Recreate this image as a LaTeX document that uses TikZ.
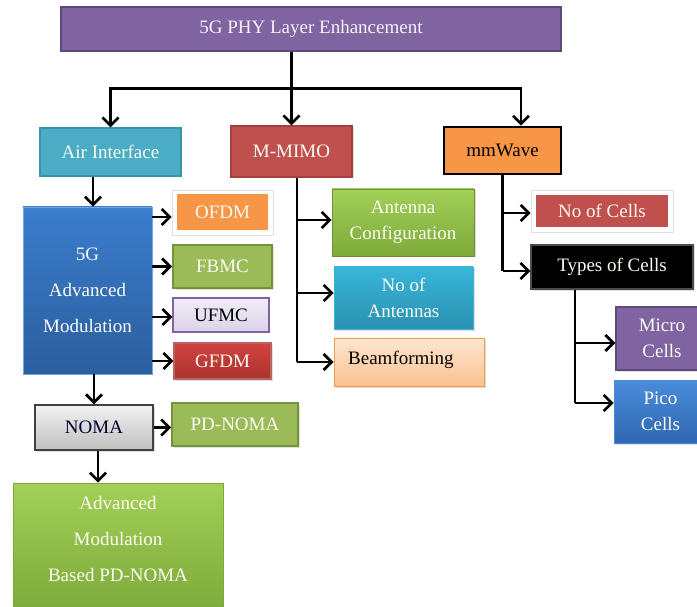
\documentclass[tikz,border=0pt]{standalone}
\usepackage{fontspec}
\setmainfont{Liberation Serif}
\usetikzlibrary{arrows.meta,shadows,calc}

\definecolor{cPurple}{HTML}{8064A2}
\definecolor{cPurpleD}{HTML}{5F497A}
\definecolor{cTeal}{HTML}{4BACC6}
\definecolor{cTealD}{HTML}{3B93AB}
\definecolor{cRed}{HTML}{C0504D}
\definecolor{cRedD}{HTML}{A43F3C}
\definecolor{cOrange}{HTML}{F79646}
\definecolor{cGreen}{HTML}{9BBB59}
\definecolor{cGreenD}{HTML}{76923C}
\definecolor{advTop}{HTML}{3B7DCD}
\definecolor{advBot}{HTML}{2B5E9E}
\definecolor{limeTop}{HTML}{A3D058}
\definecolor{limeBot}{HTML}{7DAA3A}
\definecolor{limeEdge}{HTML}{6E8E34}
\definecolor{cyanTop}{HTML}{38B6DA}
\definecolor{cyanBot}{HTML}{2B90B0}
\definecolor{picoTop}{HTML}{4A8CDB}
\definecolor{picoBot}{HTML}{2E67B0}
\definecolor{gfdmTop}{HTML}{D2433F}
\definecolor{gfdmBot}{HTML}{AA3330}
\definecolor{beamTop}{HTML}{FDE6D2}
\definecolor{beamBot}{HTML}{FBC190}
\definecolor{ufmcTop}{HTML}{F1EDF7}
\definecolor{ufmcBot}{HTML}{DCD2EA}
\definecolor{textW}{HTML}{FBFBF2}

\begin{document}
\begin{tikzpicture}[x=1pt,y=-1pt,
  box/.style={draw, line width=1.2pt, inner sep=2pt, align=center,
    font=\fontsize{19}{26}\selectfont, text=textW},
  txt/.style={inner sep=0pt, align=center, font=\fontsize{19}{26}\selectfont, text=textW},
  frame/.style={fill=white, draw=black!12, line width=0.8pt,
    drop shadow={opacity=0.22, shadow xshift=1pt, shadow yshift=-1.5pt}},
  shade/.style={drop shadow={opacity=0.25, shadow xshift=1.5pt, shadow yshift=-1.5pt}},
  conn/.style={line width=2.7pt},
  arr/.style={conn, -{Straight Barb[length=8pt,width=16pt]}}]
\clip (0,0) rectangle (697,607);
\fill[white] (0,0) rectangle (697,607);

% ---- root and first level ----
\node[box, fill=cPurple, draw=cPurpleD, text=white!92!cPurple,
  minimum width=500pt, minimum height=44pt] (top) at (311,29) {5G PHY Layer Enhancement};
\node[box, fill=cTeal, draw=cTealD, minimum width=141pt, minimum height=48pt] (air) at (110.5,152) {Air Interface};
\node[box, fill=cRed, draw=cRedD, shade, minimum width=121pt, minimum height=51pt] (mimo) at (291.5,151.5) {M-MIMO};
\node[box, fill=cOrange, draw=black, line width=2.6pt, text=black,
  minimum width=117pt, minimum height=47pt] (mmw) at (502.5,150.5) {mmWave};

% ---- air interface branch ----
\node[box, top color=advTop, bottom color=advBot, draw=advTop!70!white,
  line width=0.8pt, font=\fontsize{19}{36}\selectfont,
  minimum width=129pt, minimum height=167pt] (adv) at (87.5,290.5) {5G\\Advanced\\Modulation};

\node[frame, minimum width=101pt, minimum height=45pt] (ofdm) at (222.5,212.5) {};
\node[box, fill=cOrange, draw=none, minimum width=91pt, minimum height=36pt] (ofdmin) at (ofdm.center) {OFDM};
\node[box, fill=cGreen, draw=cGreenD, line width=2pt, shade, minimum width=99pt, minimum height=43pt] (fbmc) at (222.5,266.5) {FBMC};
\node[box, top color=ufmcTop, bottom color=ufmcBot, draw=cPurple, text=black,
  minimum width=96pt, minimum height=34pt] (ufmc) at (221,315) {UFMC};
\node[box, top color=gfdmTop, bottom color=gfdmBot, draw=cRedD!80, shade,
  minimum width=97pt, minimum height=36pt] (gfdm) at (222.5,361) {GFDM};

\node[box, top color=white!95!black, bottom color=black!25, draw=black!75, line width=1.5pt,
  text=blue!20!black, shade, minimum width=118pt, minimum height=45pt] (noma) at (94,427.5) {NOMA};
\node[box, fill=cGreen, draw=cGreenD, line width=1.8pt, shade,
  minimum width=126pt, minimum height=43pt] (pdnoma) at (235,424.5) {PD-NOMA};
\node[box, top color=limeTop, bottom color=limeBot, draw=limeBot,
  line width=0.8pt, minimum width=210pt, minimum height=128pt] (amb) at (118,547) {};
\node[txt, font=\fontsize{19}{36}\selectfont] (ambtext) at (118,539) {Advanced\\Modulation\\Based PD-NOMA};

% ---- massive MIMO branch ----
\node[box, top color=limeTop, bottom color=limeBot, draw=limeEdge,
  line width=0.8pt, shade, minimum width=142pt, minimum height=67pt] (antcfg) at (403,222.5) {Antenna\\Configuration};
\node[box, top color=cyanTop, bottom color=cyanBot, draw=cyanTop,
  line width=0.8pt, shade, minimum width=139pt, minimum height=62pt] (noant) at (403.5,298) {No of\\Antennas};
\node[box, top color=beamTop, bottom color=beamBot, draw=cOrange, line width=1pt, shade,
  minimum width=150pt, minimum height=48pt] (beam) at (409,362) {};
\node[txt, text=black, anchor=base west] (beamtext) at (348,364) {Beamforming};

% ---- mmWave branch ----
\node[frame, minimum width=142pt, minimum height=42pt] (ncells) at (602,211) {};
\node[box, fill=cRed, draw=none, minimum width=132pt, minimum height=32pt] (ncellsin) at (ncells.center) {No of Cells};
\node[box, fill=black, draw=black!70, shade, minimum width=162pt, minimum height=44pt] (types) at (612,267) {Types of Cells};
\node[box, fill=cPurple, draw=cPurpleD, line width=1.5pt, shade,
  minimum width=92pt, minimum height=63pt] (micro) at (662,338.5) {Micro\\Cells};
\node[box, top color=picoTop, bottom color=picoBot, draw=picoTop,
  line width=0.8pt, shade, minimum width=93pt, minimum height=63pt] (pico) at (660.5,411.5) {Pico\\Cells};

% ---- connectors from the root ----
\coordinate (split) at ($(top.south -| mimo.north)!0.5!(mimo.north)$);
\coordinate (rootout) at (top.south -| mimo.north);
\coordinate (mmwin) at ([xshift=18.5pt]mmw.north);
\draw[conn] (rootout) -- (split);
\draw[arr] (split) -| (air.north);
\draw[arr] (split) -- (mimo.north);
\draw[arr] (split) -| (mmwin);

% ---- air interface connectors ----
\coordinate (airout) at ([xshift=-17.5pt]air.south);
\draw[arr] (airout) -- (airout |- adv.north);
\draw[arr] (adv.east |- ofdm.west) ++(0,4.5) -- ([yshift=-4.5pt]ofdm.west);
\draw[arr] (adv.east |- fbmc.west) -- (fbmc.west);
\draw[arr] (adv.east |- ufmc.west) ++(0,2) -- ([yshift=-2pt]ufmc.west);
\draw[arr] (adv.east |- gfdm.west) -- (gfdm.west);
\draw[arr] (adv.south -| noma.north) -- (noma.north);
\draw[arr] (noma.east) -- (noma.east -| pdnoma.west);
\coordinate (nomaout) at ([xshift=4pt]noma.south);
\draw[arr] (nomaout) -- (nomaout |- amb.north);

% ---- massive MIMO connectors ----
\coordinate (mimoout) at ([xshift=5.5pt]mimo.south);
\draw[conn] (mimoout) -- (mimoout |- beam.west);
\draw[arr] (mimoout |- antcfg.west) ++(0,-2.5) -- ([yshift=2.5pt]antcfg.west);
\draw[arr] (mimoout |- noant.west) ++(0,-5) -- ([yshift=5pt]noant.west);
\draw[arr] (mimoout |- beam.west) -- (beam.west);

% ---- mmWave connectors ----
\coordinate (mmwout) at (mmw.south);
\draw[conn] (mmwout) -- ([yshift=-4pt]mmwout |- types.west);
\draw[arr] (mmwout |- ncells.west) ++(0,2) -- ([yshift=-2pt]ncells.west);
\draw[arr] (mmwout |- types.west) ++(0,4) -- ([yshift=-4pt]types.west);
\coordinate (typesout) at ([xshift=-37pt]types.south);
\draw[conn] (typesout) -- ([yshift=8.5pt]typesout |- pico.west);
\draw[arr] (typesout |- micro.west) ++(0,4.5) -- ([yshift=-4.5pt]micro.west);
\draw[arr] (typesout |- pico.west) ++(0,-8.5) -- ([yshift=8.5pt]pico.west);
\end{tikzpicture}
\end{document}
